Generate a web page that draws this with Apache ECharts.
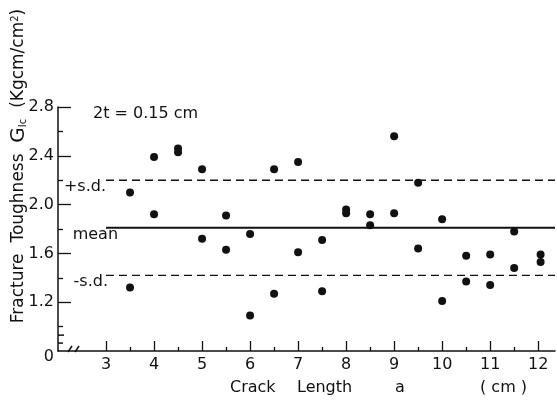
<!DOCTYPE html>
<html>
<head>
<meta charset="utf-8">
<script src="https://cdn.jsdelivr.net/npm/echarts@6/dist/echarts.min.js"></script>
<style>
html,body{margin:0;padding:0;background:#fff;}
#main{width:557px;height:401px;}
</style>
</head>
<body>
<div id="main"></div>
<script>
// values
var crackLength = [3.5,3.5, 4,4, 4.5,4.5, 5,5, 5.5,5.5, 6,6, 6.5,6.5, 7,7, 7.5,7.5,
	8,8, 8.5,8.5, 9,9, 9.5,9.5, 10,10, 10.5,10.5, 11,11, 11.5,11.5, 12.05,12.05];
var toughness = [2.10,1.32, 2.39,1.92, 2.46,2.43, 2.29,1.72, 1.91,1.63, 1.76,1.09, 2.29,1.27, 2.35,1.61, 1.71,1.29,
	1.96,1.93, 1.92,1.83, 2.56,1.93, 2.18,1.64, 1.88,1.21, 1.58,1.37, 1.59,1.34, 1.78,1.48, 1.59,1.53];
var meanValue = 1.81, plusSD = 2.20, minusSD = 1.42;
var lineFrom = 3, lineTo = 12.35;

var xMajor = [3,4,5,6,7,8,9,10,11,12];
var xMinor = [3.5,4.5,5.5,6.5,7.5,8.5,9.5,10.5,11.5];
var yMajor = [1.2,1.6,2.0,2.4,2.8];
var yMinor = [1.0,1.4,1.8,2.2,2.6];
var yLabels = [0.8,1.2,1.6,2.0,2.4,2.8]; // 0.8 sits at the broken origin, shown as 0

var ink = '#111';
var font = 'DejaVu Sans';

var chart = echarts.init(document.getElementById('main'));

var points = [];
for (var i = 0; i < crackLength.length; i++) points.push([crackLength[i], toughness[i]]);

function hline(v, dashed, txt, off) {
	return {
		type: 'line', xAxisIndex: 0, yAxisIndex: 0, symbol: 'circle', symbolSize: 0, showSymbol: true, silent: true,
		itemStyle: {color: ink},
		lineStyle: {color: ink, width: dashed ? 1.4 : 2, type: dashed ? [8, 5] : 'solid'},
		data: [
			{value: [lineFrom, v], label: {show: true, position: 'left', distance: 0, offset: off,
				formatter: txt, color: ink, fontFamily: font, fontSize: 16}},
			[lineTo, v]
		]
	};
}

var option = {
	animation: false,
	grid: {left: 58, right: 2, top: 107, bottom: 50},
	title: {text: '2t = 0.15 cm', left: 88, top: 101,
		textStyle: {fontFamily: font, fontSize: 16, fontWeight: 'normal', color: ink}},
	xAxis: [{
		type: 'value', min: 2, max: lineTo,
		axisLine: {lineStyle: {color: ink, width: 1.5}},
		axisTick: {inside: true, length: 10, customValues: xMajor, lineStyle: {color: ink, width: 1.3}},
		axisLabel: {customValues: xMajor, margin: 6, color: ink, fontFamily: font, fontSize: 16},
		splitLine: {show: false}
	}, {
		type: 'value', min: 2, max: lineTo, position: 'bottom',
		axisLine: {show: false},
		axisTick: {inside: true, length: 4, customValues: xMinor, lineStyle: {color: ink, width: 1.3}},
		axisLabel: {show: false}, splitLine: {show: false}
	}],
	yAxis: [{
		type: 'value', min: 0.8, max: 2.8,
		axisLine: {show: true, lineStyle: {color: ink, width: 1.5}},
		axisTick: {show: true, inside: true, length: 13, customValues: yMajor, lineStyle: {color: ink, width: 1.3}},
		axisLabel: {customValues: yLabels, margin: 4, color: ink, fontFamily: font, fontSize: 16,
			formatter: function (v) { return Math.abs(v - 0.8) < 1e-6 ? '{z|0}' : v.toFixed(1); },
			rich: {z: {fontFamily: font, fontSize: 16, color: ink, padding: [12, 0, 0, 0]}}},
		splitLine: {show: false}
	}, {
		type: 'value', min: 0.8, max: 2.8, position: 'left',
		axisLine: {show: false},
		axisTick: {show: true, inside: true, length: 5, customValues: yMinor, lineStyle: {color: ink, width: 1.3}},
		axisLabel: {show: false}, splitLine: {show: false}
	}],
	series: [
		{
			type: 'scatter', xAxisIndex: 0, yAxisIndex: 0, symbolSize: 8,
			itemStyle: {color: ink, opacity: 1}, data: points
		},
		hline(meanValue, false, 'mean', [12, 7]),
		hline(plusSD, true, '+s.d.', [0, 7]),
		hline(minusSD, true, '-s.d.', [2, 6])
	]
};
chart.setOption(option);

// axis breaks and axis titles
var yb1 = chart.convertToPixel({gridIndex: 0}, [2, 0.93]);
var yb2 = chart.convertToPixel({gridIndex: 0}, [2, 0.865]);
var x0 = chart.convertToPixel({gridIndex: 0}, [2, 0.8]);
var lw = {stroke: ink, lineWidth: 1.5};
chart.setOption({
	graphic: [
		{type: 'rect', shape: {x: x0[0] - 2, y: yb1[1], width: 4, height: yb2[1] - yb1[1]}, style: {fill: '#fff'}},
		{type: 'line', shape: {x1: x0[0], y1: yb1[1], x2: x0[0] + 6, y2: yb1[1]}, style: lw},
		{type: 'line', shape: {x1: x0[0], y1: yb2[1], x2: x0[0] + 5, y2: yb2[1]}, style: lw},
		{type: 'rect', shape: {x: x0[0] + 10, y: x0[1] - 2, width: 14, height: 4}, style: {fill: '#fff'}},
		{type: 'line', shape: {x1: x0[0] + 10, y1: x0[1] + 1, x2: x0[0] + 14, y2: x0[1] - 5}, style: lw},
		{type: 'line', shape: {x1: x0[0] + 17, y1: x0[1] + 1, x2: x0[0] + 21, y2: x0[1] - 5}, style: lw},
		{type: 'text', x: 230, y: 388, style: {text: 'Crack', font: '16px ' + font, fill: ink, textVerticalAlign: 'middle'}},
		{type: 'text', x: 297, y: 388, style: {text: 'Length', font: '16px ' + font, fill: ink, textVerticalAlign: 'middle'}},
		{type: 'text', x: 395, y: 388, style: {text: 'a', font: '16px ' + font, fill: ink, textVerticalAlign: 'middle'}},
		{type: 'text', x: 480, y: 388, style: {text: '( cm )', font: '16px ' + font, fill: ink, textVerticalAlign: 'middle'}},
		{type: 'text', x: 19, y: 166, rotation: Math.PI / 2,
			style: {text: 'Fracture  Toughness  {g|G}{s|Ic}  (Kgcm/cm{p|2})', fill: ink,
				font: '17px ' + font, align: 'center', verticalAlign: 'middle',
				rich: {
					g: {fontFamily: font, fontSize: 20, fill: ink},
					s: {fontFamily: font, fontSize: 10, fill: ink, padding: [8, 0, 0, 0]},
					p: {fontFamily: font, fontSize: 10, fill: ink, padding: [0, 0, 8, 0]}
				}}}
	]
});
</script>
</body>
</html>
